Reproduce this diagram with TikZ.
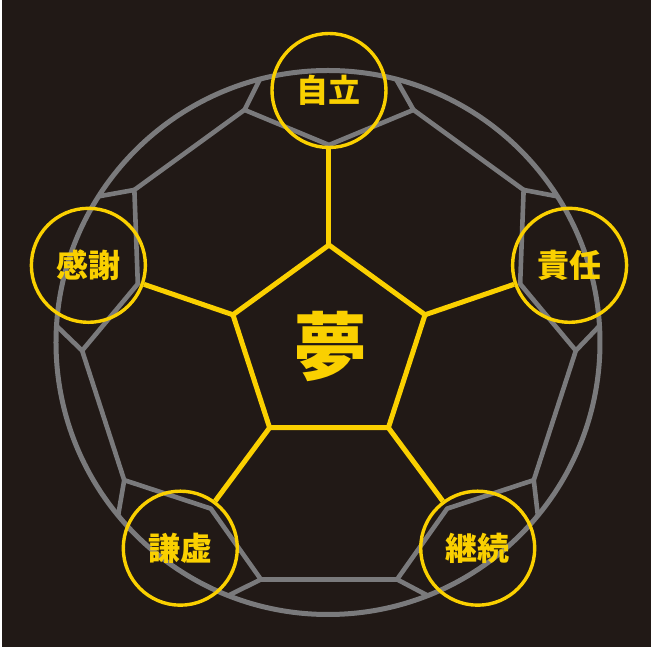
\documentclass[tikz,border=0pt]{standalone}
\usepackage{fontspec}
\newfontfamily\cjk{Noto Sans CJK JP}
\usetikzlibrary{calc}
\definecolor{bg}{RGB}{33,25,22}
\definecolor{gold}{RGB}{250,208,0}
\definecolor{seam}{RGB}{122,122,124}
\begin{document}
\begin{tikzpicture}[x=1pt,y=1pt,
  seamline/.style={draw=seam,line width=4.6pt,line join=round,line cap=round},
  rimline/.style={draw=seam,line width=5pt},
  goldline/.style={draw=gold,line width=5pt,line join=round},
  ring/.style={circle,draw=gold,line width=3.4pt,minimum size=114pt,inner sep=0pt,text=gold,
    font={\cjk\bfseries\fontsize{32pt}{32pt}\selectfont}},
  bigword/.style={text=gold,inner sep=0pt,font={\cjk\bfseries\fontsize{74pt}{74pt}\selectfont}}]
% canvas
\fill[white] (-329,-309) rectangle (328,346);
\fill[bg] (-326.5,-301) rectangle (322.5,346);
\useasboundingbox (-329,-309) rectangle (328,346);
% construction points
\coordinate (rimc) at (-1,3.5);
\coordinate (seamc) at (0,4);
\coordinate (ringc) at (0,2.5);
\foreach \k in {0,...,4} {
  \pgfmathsetmacro\t{90+72*\k}
  \coordinate (p\k) at (\t:101);
  \coordinate (v\k) at (\t:201);
  \coordinate (ja\k) at ($(seamc)+(\t-20:247)$);
  \coordinate (jb\k) at ($(seamc)+(\t+20:247)$);
  \coordinate (ea\k) at ($(rimc)+(\t-14.5:272)$);
  \coordinate (eb\k) at ($(rimc)+(\t+14.5:272)$);
}
% grey ball seams
\draw[rimline] (rimc) circle (272);
\foreach \k in {0,...,4} {
  \draw[seamline] (ea\k) -- (ja\k) -- (v\k) -- (jb\k) -- (eb\k);
}
\draw[seamline] (jb0) -- (ja1);
\draw[seamline] (jb1) -- (ja2);
\draw[seamline] (jb2) -- (ja3);
\draw[seamline] (jb3) -- (ja4);
\draw[seamline] (jb4) -- (ja0);
% value circles
\node[ring] (c0) at ($(ringc)+(90:253)$) {自立};
\node[ring] (c1) at ($(ringc)+(162:253)$) {感謝};
\node[ring] (c2) at ($(ringc)+(234:253)$) {謙虚};
\node[ring] (c3) at ($(ringc)+(306:253)$) {継続};
\node[ring] (c4) at ($(ringc)+(18:253)$) {責任};
% central pentagon and spokes
\draw[goldline] (p0) -- (p1) -- (p2) -- (p3) -- (p4) -- cycle;
\draw[goldline] (p0) -- (c0);
\draw[goldline] (p1) -- (c1);
\draw[goldline] (p2) -- (c2);
\draw[goldline] (p3) -- (c3);
\draw[goldline] (p4) -- (c4);
\node[bigword] (dream) at (1.5,0) {夢};
\end{tikzpicture}
\end{document}
